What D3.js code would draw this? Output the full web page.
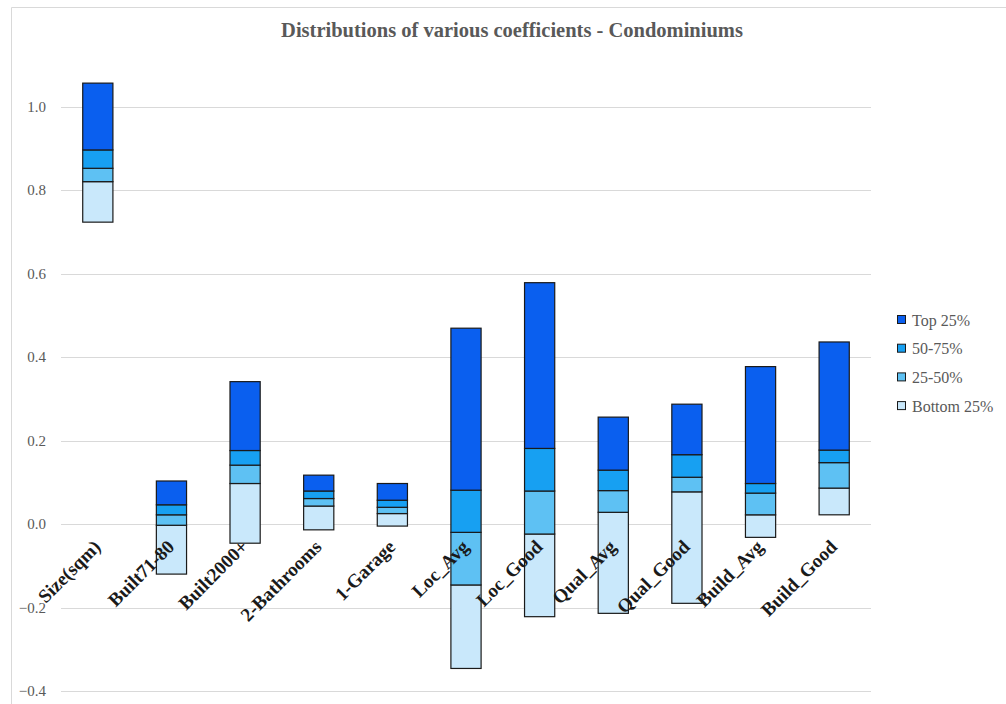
<!DOCTYPE html>
<html>
<head>
<meta charset="utf-8">
<script src="https://cdn.jsdelivr.net/npm/d3@7/dist/d3.min.js"></script>
<style>
  html, body { margin: 0; padding: 0; background: #ffffff; }
  svg { display: block; }
</style>
</head>
<body>
<svg id="chart" width="1006" height="704"></svg>
<script>
// Coefficient names along the x axis
const categories = ["Size(sqm)", "Built71-80", "Built2000+", "2-Bathrooms", "1-Garage",
  "Loc_Avg", "Loc_Good", "Qual_Avg", "Qual_Good", "Build_Avg", "Build_Good"];

// Quartile boundaries of each coefficient's distribution
const minValues    = [0.723, -0.120, -0.046, -0.014, -0.005, -0.346, -0.222, -0.214, -0.190, -0.032, 0.022];
const q1Values     = [0.820, -0.003,  0.097,  0.043,  0.025, -0.146, -0.024,  0.028,  0.077,  0.022, 0.086];
const medianValues = [0.852,  0.022,  0.141,  0.061,  0.040, -0.020,  0.079,  0.080,  0.112,  0.074, 0.147];
const q3Values     = [0.896,  0.046,  0.176,  0.079,  0.057,  0.081,  0.181,  0.129,  0.166,  0.097, 0.177];
const maxValues    = [1.056,  0.103,  0.341,  0.117,  0.097,  0.469,  0.578,  0.256,  0.287,  0.377, 0.436];

const seriesNames = ["Bottom 25%", "25-50%", "50-75%", "Top 25%"];
const seriesColors = ["#c9e8fb", "#5ec1f3", "#17a0f2", "#0a5fef"];

const yTicks = [-0.4, -0.2, 0.0, 0.2, 0.4, 0.6, 0.8, 1.0];
const chartTitle = "Distributions of various coefficients - Condominiums";

const svg = d3.select("#chart");

// outer chart frame
svg.append("path")
  .attr("d", "M11.5,704 L11.5,7.5 L1006,7.5")
  .attr("fill", "none")
  .attr("stroke", "#d9d9d9")
  .attr("stroke-width", 1);

const plot = { left: 61, right: 871 };

const x = d3.scaleBand()
  .domain(categories)
  .range([plot.left, plot.right])
  .paddingInner(0.59)
  .paddingOuter(0.295);

const y = d3.scaleLinear()
  .domain([0, 1])
  .range([524, 524 - 417.5]);

// horizontal gridlines
svg.append("g")
  .selectAll("line")
  .data(yTicks)
  .join("line")
  .attr("x1", plot.left)
  .attr("x2", plot.right)
  .attr("y1", d => Math.round(y(d)) + 0.5)
  .attr("y2", d => Math.round(y(d)) + 0.5)
  .attr("stroke", "#d9d9d9")
  .attr("stroke-width", 1);

// y axis labels
const yAxis = d3.axisLeft(y)
  .tickValues(yTicks)
  .tickFormat(d3.format(".1f"))
  .tickSize(0)
  .tickPadding(0);

const yAxisG = svg.append("g")
  .attr("transform", "translate(46,0)")
  .call(yAxis);
yAxisG.select(".domain").remove();
yAxisG.selectAll("text")
  .attr("font-family", "'Liberation Serif', serif")
  .attr("font-size", 15)
  .attr("fill", "#595959");

// stacked quartile segments
const bounds = categories.map((c, i) =>
  [minValues[i], q1Values[i], medianValues[i], q3Values[i], maxValues[i]]);

const segments = [];
categories.forEach((c, i) => {
  for (let s = 0; s < 4; s++) {
    segments.push({ cat: c, series: s, lo: bounds[i][s], hi: bounds[i][s + 1] });
  }
});

svg.append("g")
  .selectAll("rect")
  .data(segments)
  .join("rect")
  .attr("x", d => x(d.cat))
  .attr("width", x.bandwidth())
  .attr("y", d => y(d.hi))
  .attr("height", d => y(d.lo) - y(d.hi))
  .attr("fill", d => seriesColors[d.series])
  .attr("stroke", "#1a1a1a")
  .attr("stroke-width", 1.2);

// rotated category labels hanging from the zero line
svg.append("g")
  .selectAll("text")
  .data(categories)
  .join("text")
  .attr("transform", d => `translate(${x(d) + x.bandwidth() / 2 + 4},${y(0) + 24}) rotate(-45)`)
  .attr("text-anchor", "end")
  .attr("font-family", "'Liberation Serif', serif")
  .attr("font-weight", "bold")
  .attr("font-size", 19)
  .attr("fill", "#1a1a1a")
  .text(d => d);

// title
svg.append("text")
  .attr("x", 512)
  .attr("y", 37)
  .attr("text-anchor", "middle")
  .attr("font-family", "'Liberation Serif', serif")
  .attr("font-weight", "bold")
  .attr("font-size", 20.5)
  .attr("fill", "#595959")
  .text(chartTitle);

// legend, top series first
const legendOrder = [3, 2, 1, 0];
const legend = svg.append("g")
  .selectAll("g")
  .data(legendOrder)
  .join("g")
  .attr("transform", (d, i) => `translate(897,${320 + i * 28.7})`);

legend.append("rect")
  .attr("x", 0.5)
  .attr("y", -4.5)
  .attr("width", 8)
  .attr("height", 8)
  .attr("fill", d => seriesColors[d])
  .attr("stroke", "#1a1a1a")
  .attr("stroke-width", 1);

legend.append("text")
  .attr("x", 15)
  .attr("y", 5.5)
  .attr("font-family", "'Liberation Serif', serif")
  .attr("font-size", 16)
  .attr("fill", "#595959")
  .text(d => seriesNames[d]);
</script>
</body>
</html>
